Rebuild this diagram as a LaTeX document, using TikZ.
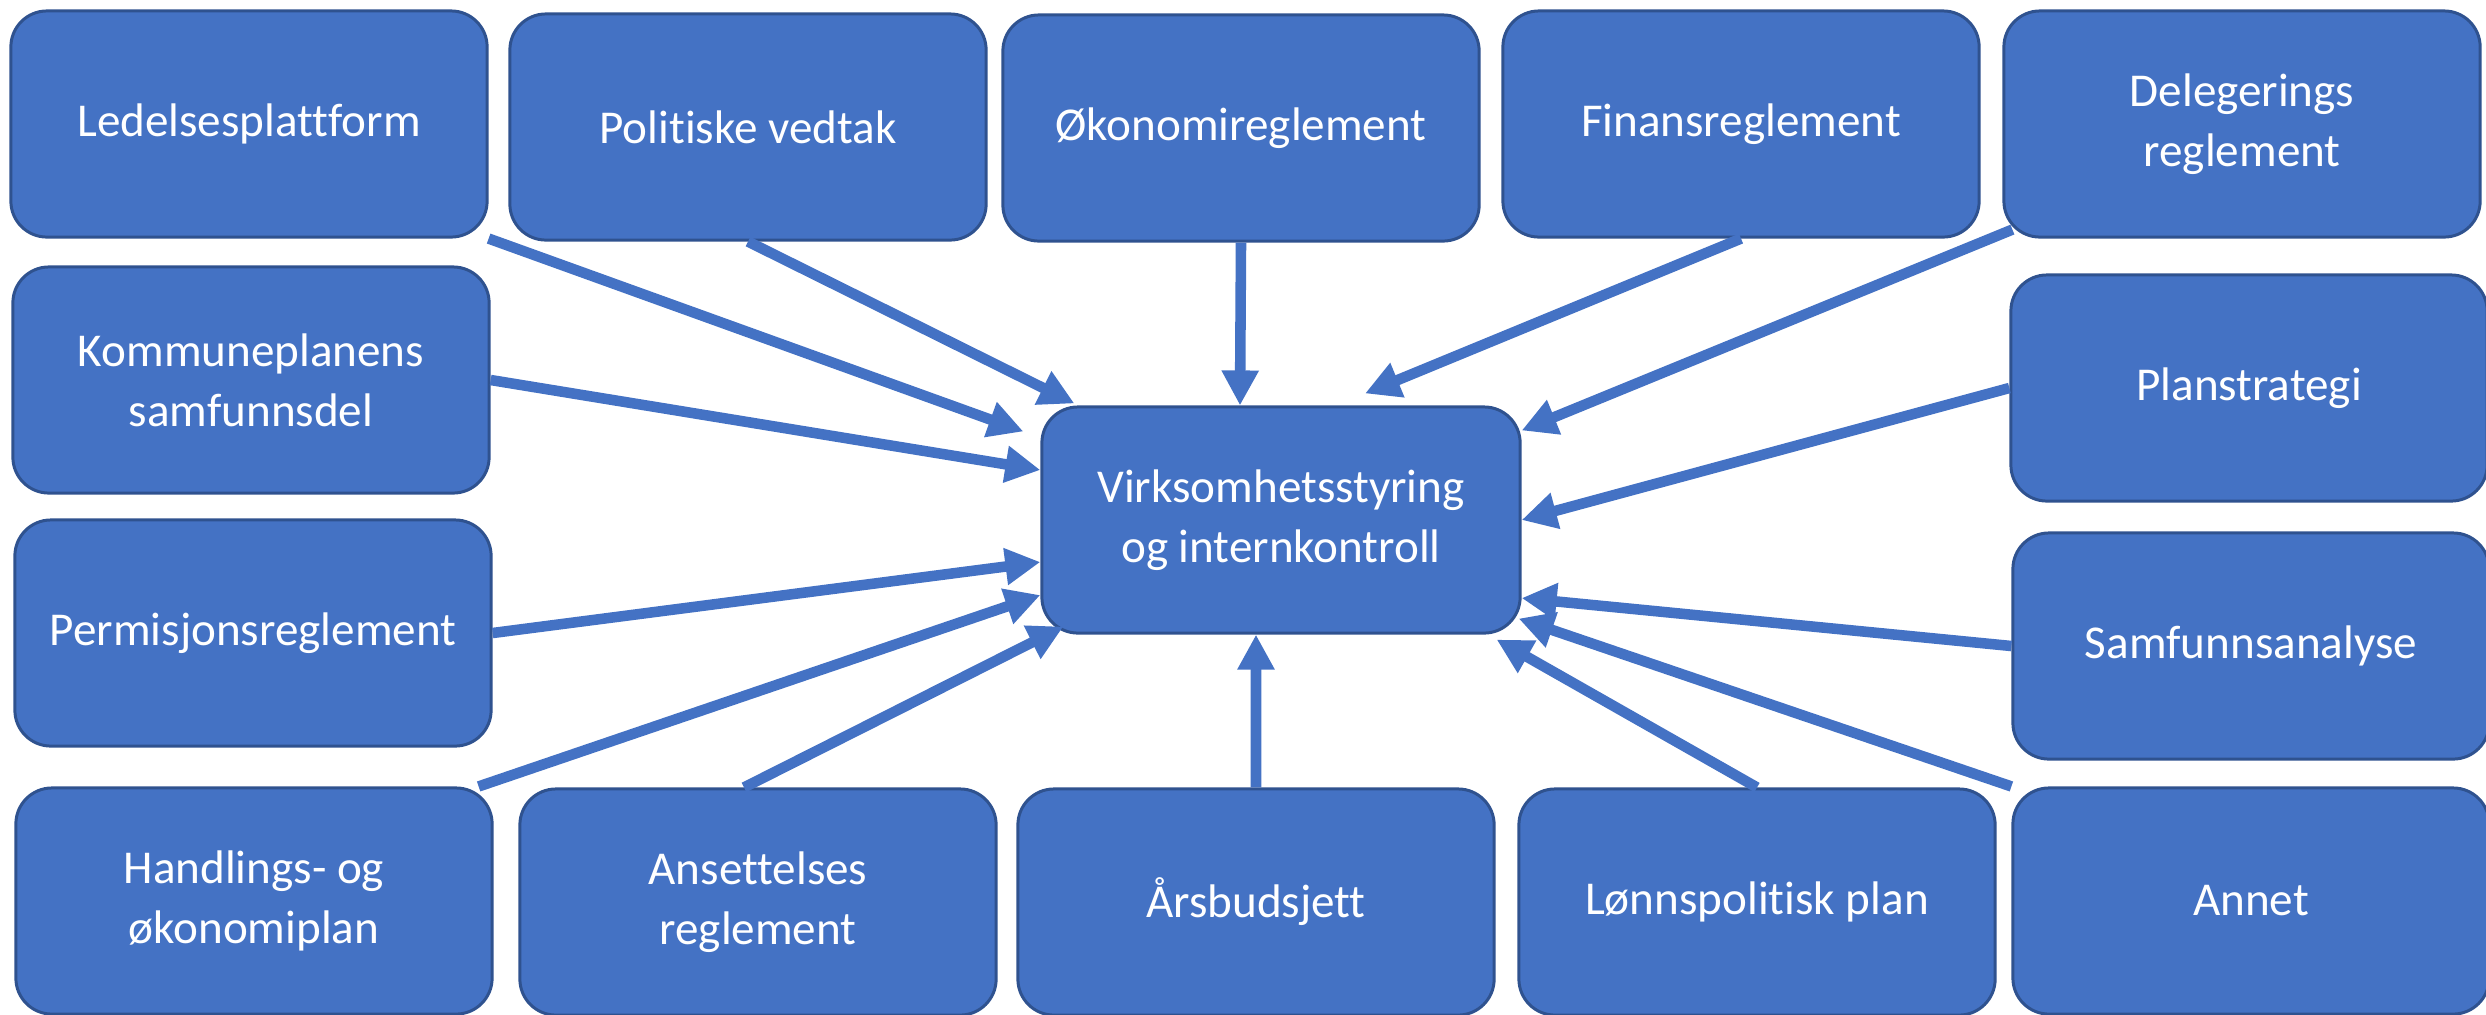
\documentclass[tikz,border=0pt]{standalone}
\usepackage{fontspec}
\setmainfont{Carlito}[Ligatures=NoCommon]
\usetikzlibrary{arrows.meta}
\definecolor{boksfyll}{HTML}{4472C4}
\definecolor{bokskant}{HTML}{2F528F}
\definecolor{pilfarge}{HTML}{4472C4}

\begin{document}
\begin{tikzpicture}[x=0.01cm,y=-0.01cm,line join=miter,
  boks/.style={draw=bokskant,line width=0.85pt,fill=boksfyll,rounded corners=0.36cm,
    minimum width=4.76cm,minimum height=2.26cm,inner sep=0pt,text=white,align=center,
    font=\fontsize{13.4pt}{17pt}\selectfont},
  pil/.style={draw=pilfarge,line width=3pt,-{Triangle[length=0.35cm,width=0.35cm]}},
]
\useasboundingbox (0,0) rectangle (2486,1014);
%%
  % Node: Virksomhetsstyring
  \node[boks,minimum width=4.78cm] (sentrum) at (1281,520) {Virksomhetsstyring\\og internkontroll};
  % Top row
  \node[boks] (ledelse) at (249,124) {Ledelsesplattform};
  \node[boks] (politisk) at (748,127) {Politiske vedtak};
  \node[boks] (okonomi) at (1241,128) {Økonomireglement};
  \node[boks] (finans) at (1741,124) {Finansreglement};
  \node[boks] (deleg) at (2242,124) {Delegerings\\reglement};
  % Left and right columns
  \node[boks] (kommune) at (251,380) {Kommuneplanens\\samfunnsdel};
  \node[boks] (plan) at (2249,388) {Planstrategi};
  \node[boks] (permisjon) at (253,633) {Permisjonsreglement};
  \node[boks] (analyse) at (2251,646) {Samfunnsanalyse};
  % Bottom row
  \node[boks] (handling) at (254,901) {Handlings- og\\økonomiplan};
  \node[boks] (ansett) at (758,902) {Ansettelses\\reglement};
  \node[boks] (budsjett) at (1256,902) {Årsbudsjett};
  \node[boks] (lonn) at (1757,902) {Lønnspolitisk plan};
  \node[boks] (annet) at (2251,901) {Annet};
%%
  % Edges: top -> sentrum
  \draw[pil] (ledelse.south east) -- ([xshift=-0.17cm,yshift=-0.26cm]sentrum.north west);
  \draw[pil] (politisk.south) -- ([xshift=0.34cm,yshift=0.02cm]sentrum.north west);
  \draw[pil] (okonomi.south) -- ([xshift=-0.41cm]sentrum.north);
  \draw[pil] (finans.south) -- ([xshift=0.84cm,yshift=0.12cm]sentrum.north);
  \draw[pil] ([xshift=0.1cm,yshift=0.09cm]deleg.south west) -- ([yshift=-0.25cm]sentrum.north east);
  % Edges: sides -> sentrum
  \draw[pil] (kommune.east) -- ([yshift=0.5cm]sentrum.west);
  \draw[pil] (plan.west) -- (sentrum.east);
  \draw[pil] (permisjon.east) -- ([yshift=-0.42cm]sentrum.west);
  \draw[pil] (analyse.west) -- ([yshift=-0.78cm]sentrum.east);
  % Edges: bottom -> sentrum
  \draw[pil] ([xshift=-0.15cm]handling.north east) -- ([yshift=-0.75cm]sentrum.west);
  \draw[pil] ([xshift=-0.14cm]ansett.north) -- ([xshift=0.23cm,yshift=0.08cm]sentrum.south west);
  \draw[pil] (budsjett.north) -- ([xshift=-0.25cm]sentrum.south);
  \draw[pil] (lonn.north) -- ([xshift=-0.25cm,yshift=-0.05cm]sentrum.south east);
  \draw[pil] (annet.north west) -- ([xshift=-0.03cm,yshift=0.16cm]sentrum.south east);
%
\end{tikzpicture}
\end{document}
